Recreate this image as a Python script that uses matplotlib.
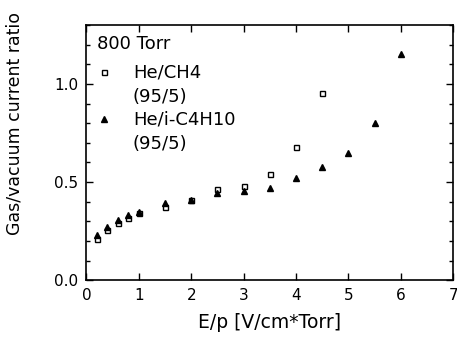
import matplotlib
matplotlib.use('Agg')
import matplotlib.pyplot as plt
from matplotlib.ticker import MultipleLocator

# E/p values and gas/vacuum current ratios
ep_ch4 = [0.2, 0.4, 0.6, 0.8, 1.0, 1.5, 2.0, 2.5, 3.0, 3.5, 4.0, 4.5]
ratio_ch4 = [0.21, 0.255, 0.29, 0.315, 0.34, 0.375, 0.41, 0.465, 0.48, 0.54, 0.68, 0.955]

ep_c4h10 = [0.2, 0.4, 0.6, 0.8, 1.0, 1.5, 2.0, 2.5, 3.0, 3.5, 4.0, 4.5, 5.0, 5.5, 6.0]
ratio_c4h10 = [0.23, 0.27, 0.305, 0.33, 0.35, 0.395, 0.41, 0.445, 0.455, 0.47, 0.52, 0.575, 0.65, 0.80, 1.155]

xticks = [0, 1, 2, 3, 4, 5, 6, 7]
yticks = [0.0, 0.5, 1.0]

plt.rcParams['font.family'] = ['DejaVu Sans']

fig = plt.figure(figsize=(4.57, 3.4), dpi=100)
ax = fig.add_axes([0.189, 0.176, 0.803, 0.75])

ax.plot(ep_ch4, ratio_ch4, linestyle='none', marker='s', markersize=3.6,
        markerfacecolor='white', markeredgecolor='black', markeredgewidth=1.0)
ax.plot(ep_c4h10, ratio_c4h10, linestyle='none', marker='^', markersize=4.2,
        color='black')

ax.set_xlim(0, 7)
ax.set_ylim(0, 1.3)
ax.set_xticks(xticks)
ax.set_xticklabels([str(t) for t in xticks])
ax.set_yticks(yticks)
ax.set_yticklabels(['%.1f' % t for t in yticks])
ax.yaxis.set_minor_locator(MultipleLocator(0.1))

ax.tick_params(which='both', direction='in', top=True, right=True, labelsize=11, width=1.0)
ax.tick_params(which='major', length=5, pad=6)
ax.tick_params(which='minor', length=3)
for s in ax.spines.values():
    s.set_linewidth(1.2)

ax.set_xlabel('E/p [V/cm*Torr]', fontsize=13.5, labelpad=7)
ax.set_ylabel('Gas/vacuum current ratio', fontsize=12.5)
ax.yaxis.set_label_coords(-0.172, 0.615)

# hand-drawn legend block in the upper left corner
fs = 13
ax.text(0.028, 0.925, '800 Torr', transform=ax.transAxes, fontsize=fs, va='center')
ax.plot([0.048], [0.816], transform=ax.transAxes, marker='s', markersize=3.6,
        markerfacecolor='white', markeredgecolor='black', linestyle='none')
ax.text(0.127, 0.816, 'He/CH4', transform=ax.transAxes, fontsize=fs, va='center')
ax.text(0.127, 0.718, '(95/5)', transform=ax.transAxes, fontsize=fs, va='center')
ax.plot([0.048], [0.631], transform=ax.transAxes, marker='^', markersize=4.2,
        color='black', linestyle='none')
ax.text(0.127, 0.631, 'He/i-C4H10', transform=ax.transAxes, fontsize=fs, va='center')
ax.text(0.127, 0.533, '(95/5)', transform=ax.transAxes, fontsize=fs, va='center')

fig.savefig('out.png', dpi=100)
plt.close(fig)
